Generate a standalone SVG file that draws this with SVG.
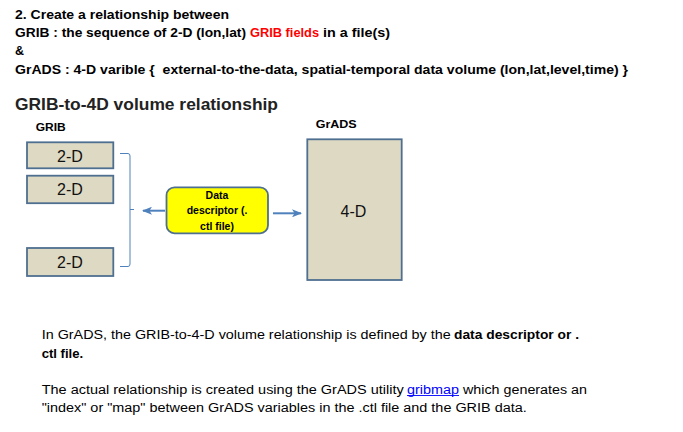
<svg xmlns="http://www.w3.org/2000/svg" width="683" height="432" viewBox="0 0 683 432">
<style>
.hd{font-family:"Liberation Sans",Arial,sans-serif;font-weight:bold;font-size:12.5px;fill:#000}
.h2{font-family:"Liberation Sans",Arial,sans-serif;font-weight:bold;font-size:16.5px;fill:#222}
.lbl{font-family:"Liberation Sans",Arial,sans-serif;font-weight:bold;font-size:11px;fill:#000}
.box{fill:#ddd9c3;stroke:#4f6f91;stroke-width:1.8}
.bt{font-family:"Liberation Sans",Arial,sans-serif;font-size:16px;fill:#111;text-anchor:middle}
.yt{font-family:"Liberation Sans",Arial,sans-serif;font-weight:bold;font-size:10.5px;fill:#000;text-anchor:middle}
.body{font-family:"Liberation Sans",Arial,sans-serif;font-size:12px;fill:#000}
.bb{font-family:"Liberation Sans",Arial,sans-serif;font-size:12px;font-weight:bold;fill:#000}
.conn{stroke:#4f81bd;fill:none}
</style>
<defs>
<marker id="ah" markerWidth="10" markerHeight="8" refX="9" refY="4" orient="auto" markerUnits="userSpaceOnUse">
<path d="M0,0 L10,4 L0,8 L2.5,4 Z" fill="#4f81bd"/>
</marker>
</defs>
<rect width="683" height="432" fill="#fff"/>
<g id="header">
<text class="hd" x="15" y="19" textLength="214" lengthAdjust="spacingAndGlyphs">2. Create a relationship between</text>
<text class="hd" x="15" y="37.3" textLength="231" lengthAdjust="spacingAndGlyphs">GRIB : the sequence of 2-D (lon,lat)</text>
<text class="hd" x="250" y="37.3" textLength="69" lengthAdjust="spacingAndGlyphs" style="fill:#ff0000">GRIB fields</text>
<text class="hd" x="323" y="37.3" textLength="67" lengthAdjust="spacingAndGlyphs">in a file(s)</text>
<text class="hd" x="15" y="55">&amp;</text>
<text class="hd" x="15" y="74" textLength="613" lengthAdjust="spacingAndGlyphs" xml:space="preserve">GrADS : 4-D varible {  external-to-the-data, spatial-temporal data volume (lon,lat,level,time) }</text>
<text class="h2" x="15" y="110" textLength="263" lengthAdjust="spacingAndGlyphs">GRIB-to-4D volume relationship</text>
</g>
<g id="label-grib"><text class="lbl" x="35.7" y="130.7" textLength="30" lengthAdjust="spacingAndGlyphs">GRIB</text></g>
<g id="label-grads"><text class="lbl" x="315.7" y="128.3" textLength="41" lengthAdjust="spacingAndGlyphs">GrADS</text></g>
<g id="grib-2d-1"><rect class="box" x="27" y="142.3" width="86.3" height="26"/><text class="bt" x="70" y="161.5">2-D</text></g>
<g id="grib-2d-2"><rect class="box" x="27" y="175.7" width="86.3" height="27.5"/><text class="bt" x="70" y="195">2-D</text></g>
<g id="grib-2d-3"><rect class="box" x="27" y="248" width="86.3" height="28"/><text class="bt" x="70" y="267.5">2-D</text></g>
<g id="grads-4d"><rect class="box" x="307.3" y="139.3" width="94.4" height="140.7"/><text class="bt" x="353.5" y="217.3">4-D</text></g>
<g id="data-descriptor"><rect x="166.5" y="187.3" width="101.5" height="46" rx="8" ry="8" fill="#ffff00" stroke="#4f6f91" stroke-width="1.8"/>
<text class="yt" x="217" y="198.5">Data</text>
<text class="yt" x="217" y="214">descriptor (.</text>
<text class="yt" x="217" y="229.5">ctl file)</text></g>
<g id="connectors">
<path class="conn" stroke-width="1" d="M120,153.5 H128 Q130,153.5 130,156 V264 Q130,266.5 128,266.5 H120 M130,209.5 H134"/>
<line class="conn" stroke-width="2" x1="165" y1="210.7" x2="143" y2="210.7" marker-end="url(#ah)"/>
<line class="conn" stroke-width="2" x1="273" y1="213.3" x2="301" y2="213.3" marker-end="url(#ah)"/>
</g>
<g id="body-text">
<text class="body" x="41.7" y="339.3" textLength="409" lengthAdjust="spacingAndGlyphs">In GrADS, the GRIB-to-4-D volume relationship is defined by the</text>
<text class="bb" x="454" y="339.3" textLength="125" lengthAdjust="spacingAndGlyphs">data descriptor or .</text>
<text class="bb" x="41.7" y="357.7" textLength="41.5" lengthAdjust="spacingAndGlyphs">ctl file.</text>
<text class="body" x="41.7" y="393.5" textLength="362" lengthAdjust="spacingAndGlyphs">The actual relationship is created using the GrADS utility</text>
<text class="body" x="407" y="393.5" textLength="52" lengthAdjust="spacingAndGlyphs" style="fill:#0000ff">gribmap</text>
<line x1="407" y1="395.5" x2="459" y2="395.5" stroke="#0000ff" stroke-width="0.9"/>
<text class="body" x="463" y="393.5" textLength="124" lengthAdjust="spacingAndGlyphs">which generates an</text>
<text class="body" x="41.7" y="411.7" textLength="485" lengthAdjust="spacingAndGlyphs">"index" or "map" between GrADS variables in the .ctl file and the GRIB data.</text>
</g>
</svg>
